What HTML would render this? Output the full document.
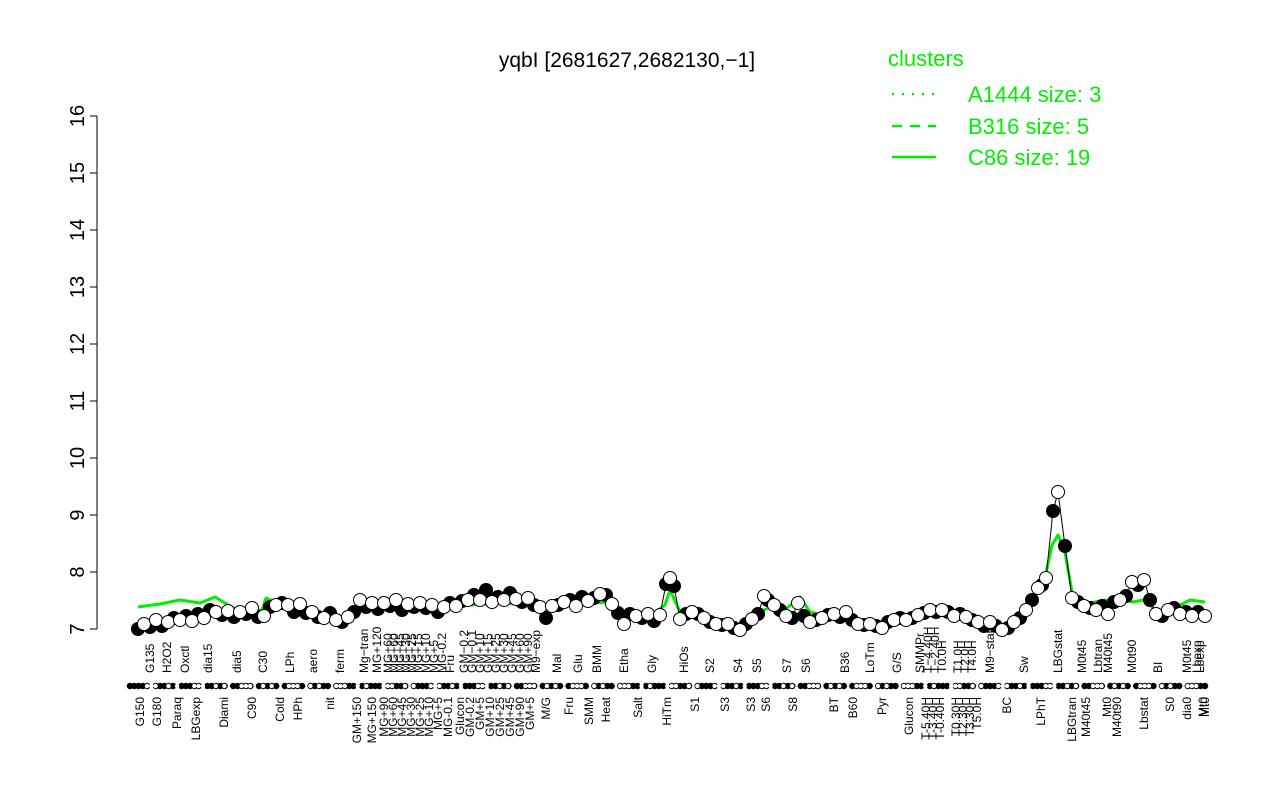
<!DOCTYPE html>
<html><head><meta charset="utf-8">
<style>
html,body{margin:0;padding:0;background:#fff;}
svg{display:block;font-family:"Liberation Sans",Arial,sans-serif;}
</style></head>
<body>
<svg width="1280" height="800" viewBox="0 0 1280 800" xmlns="http://www.w3.org/2000/svg">
<defs>
<marker id="mb" markerUnits="userSpaceOnUse" markerWidth="16" markerHeight="16" refX="8" refY="8"><circle cx="8" cy="8" r="6.5" fill="#000" stroke="#000" stroke-width="1"/></marker>
<marker id="mw" markerUnits="userSpaceOnUse" markerWidth="16" markerHeight="16" refX="8" refY="8"><circle cx="8" cy="8" r="6.5" fill="#fff" stroke="#000" stroke-width="1"/></marker>
</defs>
<rect width="1280" height="800" fill="#fff"/>
<text x="627" y="67" font-size="21" text-anchor="middle">yqbI [2681627,2682130,−1]</text>
<g fill="#00ee00" font-size="22">
<text x="888" y="66">clusters</text>
<text x="968" y="102">A1444 size: 3</text>
<text x="968" y="134">B316 size: 5</text>
<text x="968" y="165">C86 size: 19</text>
</g>
<line x1="892" y1="94" x2="936" y2="94" stroke="#00ee00" stroke-width="2.5" stroke-dasharray="2,8"/>
<line x1="892" y1="126" x2="936" y2="126" stroke="#00ee00" stroke-width="2.5" stroke-dasharray="10,8"/>
<line x1="892" y1="157" x2="936" y2="157" stroke="#00ee00" stroke-width="2.5"/>
<g stroke="#000" stroke-width="1">
<line x1="97" y1="116" x2="97" y2="629"/>
<line x1="90" y1="116" x2="97" y2="116"/><line x1="90" y1="173" x2="97" y2="173"/>
<line x1="90" y1="230" x2="97" y2="230"/><line x1="90" y1="287" x2="97" y2="287"/>
<line x1="90" y1="344" x2="97" y2="344"/><line x1="90" y1="401" x2="97" y2="401"/>
<line x1="90" y1="458" x2="97" y2="458"/><line x1="90" y1="515" x2="97" y2="515"/>
<line x1="90" y1="572" x2="97" y2="572"/><line x1="90" y1="629" x2="97" y2="629"/>
</g>
<g font-size="20" text-anchor="middle">
<text transform="translate(84,116) rotate(-90)">16</text>
<text transform="translate(84,173) rotate(-90)">15</text>
<text transform="translate(84,230) rotate(-90)">14</text>
<text transform="translate(84,287) rotate(-90)">13</text>
<text transform="translate(84,344) rotate(-90)">12</text>
<text transform="translate(84,401) rotate(-90)">11</text>
<text transform="translate(84,458) rotate(-90)">10</text>
<text transform="translate(84,515) rotate(-90)">9</text>
<text transform="translate(84,572) rotate(-90)">8</text>
<text transform="translate(84,629) rotate(-90)">7</text>
</g>
<polyline fill="none" stroke="#00ee00" stroke-width="3" stroke-linejoin="round" points="138,607 160,604 180,600 200,603 215,597 240,612 262,610 266,598 280,604 300,608 320,614 345,619 360,600 400,604 440,606 470,605 500,603 530,605 545,612 560,606 590,602 610,603 625,620 650,616 665,605 670,590 680,612 690,614 700,614 720,624 745,624 760,612 770,607 780,614 800,597 810,612 830,616 850,622 880,622 910,619 930,614 950,612 970,620 985,622 1005,626 1025,612 1037,590 1045,578 1052,545 1058,535 1065,552 1072,592 1085,604 1105,600 1115,603 1125,600 1133,602 1143,600 1150,605 1160,615 1175,608 1190,600 1205,602"/>
<polyline fill="none" stroke="#000" stroke-width="1" points="138,629 144,624 150,627 156,620 162,626 168,622 174,618 180,620 186,616 192,621 198,614 204,618 210,610 216,612 222,615 228,611 234,617 240,612 246,614 252,608 258,617 264,616 270,607 276,605 282,603 288,605 294,612 300,604 306,613 312,612 318,617 324,618 330,613 336,620 342,622 348,617 354,612 360,600 366,607 372,603 378,609 384,603 390,606 396,600 402,610 408,604 414,607 420,603 426,608 432,605 438,612 444,607 450,603 456,606 462,601 468,600 474,595 480,600 486,590 492,602 498,597 504,600 510,593 516,599 522,602 528,598 534,605 540,607 546,618 552,606 558,605 564,602 570,600 576,606 582,597 588,601 594,598 600,594 606,595 612,604 618,613 624,624 630,614 636,616 642,618 648,614 654,621 660,615 666,584 670,578 674,586 680,619 686,614 692,612 698,614 704,618 710,622 716,624 722,625 728,624 734,628 740,630 746,624 752,619 758,614 764,596 768,600 774,605 780,610 786,616 792,618 798,603 804,616 810,622 816,620 822,618 828,615 834,614 840,617 846,612 852,620 858,624 864,625 870,624 876,626 882,628 888,622 894,620 900,618 906,620 912,618 918,615 924,613 930,610 936,612 942,610 948,612 954,616 960,614 966,617 972,620 978,622 984,626 990,622 996,626 1002,630 1008,628 1014,622 1020,618 1026,610 1032,600 1038,588 1042,585 1046,578 1053,511 1058,492 1065,546 1072,598 1078,602 1084,606 1090,608 1096,610 1102,606 1108,614 1114,602 1120,600 1126,596 1132,582 1138,585 1144,580 1150,600 1156,614 1162,616 1168,610 1174,608 1180,614 1186,612 1192,616 1198,612 1205,616"/>
<polyline fill="none" stroke="none" marker-start="url(#mb)" marker-mid="url(#mb)" marker-end="url(#mb)" points="138,629 150,627 162,626 174,618 186,616 198,614 210,610 222,615 234,617 246,614 258,617 270,607 282,603 294,612 306,613 318,617 330,613 342,622 354,612 366,607 378,609 390,606 402,610 414,607 426,608 438,612 450,603 462,601 474,595 486,590 498,597 510,593 522,602 534,605 546,618 558,605 570,600 582,597 594,598 606,595 618,613 630,614 642,618 654,621 666,584 674,586 686,614 698,614 710,622 722,625 734,628 746,624 758,614 768,600 780,610 792,618 804,616 816,620 828,615 840,617 852,620 864,625 876,626 888,622 900,618 912,618 924,613 936,612 948,612 960,614 972,620 984,626 996,626 1008,628 1020,618 1032,600 1042,585 1053,511 1065,546 1078,602 1090,608 1102,606 1114,602 1126,596 1138,585 1150,600 1162,616 1174,608 1186,612 1198,612"/>
<polyline fill="none" stroke="none" marker-start="url(#mw)" marker-mid="url(#mw)" marker-end="url(#mw)" points="144,624 156,620 168,622 180,620 192,621 204,618 216,612 228,611 240,612 252,608 264,616 276,605 288,605 300,604 312,612 324,618 336,620 348,617 360,600 372,603 384,603 396,600 408,604 420,603 432,605 444,607 456,606 468,600 480,600 492,602 504,600 516,599 528,598 540,607 552,606 564,602 576,606 588,601 600,594 612,604 624,624 636,616 648,614 660,615 670,578 680,619 692,612 704,618 716,624 728,624 740,630 752,619 764,596 774,605 786,616 798,603 810,622 822,618 834,614 846,612 858,624 870,624 882,628 894,620 906,620 918,615 930,610 942,610 954,616 966,617 978,622 990,622 1002,630 1014,622 1026,610 1038,588 1046,578 1058,492 1072,598 1084,606 1096,610 1108,614 1120,600 1132,582 1144,580 1156,614 1168,610 1180,614 1192,616 1205,616"/>
<line x1="130" y1="686" x2="1208" y2="686" stroke="#000" stroke-width="6.5" stroke-linecap="round" stroke-dasharray="0 4.3 0 4.3 0 4.3 0 4.3 0 8.6"/>
<line x1="147" y1="686" x2="1208" y2="686" stroke="#fff" stroke-width="4.4" stroke-linecap="round" stroke-dasharray="0 4.3 0 4.3 0 12.9 0 8.6 0 17.2"/>
<g font-size="12" text-anchor="end">
<text transform="translate(144,697) rotate(-90)">G150</text>
<text transform="translate(161,697) rotate(-90)">G180</text>
<text transform="translate(181,697) rotate(-90)">Paraq</text>
<text transform="translate(200,697) rotate(-90)">LBGexp</text>
<text transform="translate(228,697) rotate(-90)">Diami</text>
<text transform="translate(256,697) rotate(-90)">C90</text>
<text transform="translate(284,697) rotate(-90)">Cold</text>
<text transform="translate(302,697) rotate(-90)">HPh</text>
<text transform="translate(334,697) rotate(-90)">nit</text>
<text transform="translate(361,697) rotate(-90)">GM+150</text>
<text transform="translate(376,697) rotate(-90)">MG+150</text>
<text transform="translate(388,697) rotate(-90)">MG+90</text>
<text transform="translate(397,697) rotate(-90)">MG+60</text>
<text transform="translate(406,697) rotate(-90)">MG+45</text>
<text transform="translate(415,697) rotate(-90)">MG+30</text>
<text transform="translate(424,697) rotate(-90)">MG+25</text>
<text transform="translate(433,697) rotate(-90)">MG+10</text>
<text transform="translate(442,697) rotate(-90)">MG+5</text>
<text transform="translate(452,697) rotate(-90)">MG-0.1</text>
<text transform="translate(464,697) rotate(-90)">Glucon</text>
<text transform="translate(474,697) rotate(-90)">GM-0.2</text>
<text transform="translate(484,697) rotate(-90)">GM+5</text>
<text transform="translate(494,697) rotate(-90)">GM+10</text>
<text transform="translate(504,697) rotate(-90)">GM+25</text>
<text transform="translate(514,697) rotate(-90)">GM+45</text>
<text transform="translate(524,697) rotate(-90)">GM+90</text>
<text transform="translate(534,697) rotate(-90)">GM+5</text>
<text transform="translate(550,697) rotate(-90)">M/G</text>
<text transform="translate(573,697) rotate(-90)">Fru</text>
<text transform="translate(593,697) rotate(-90)">SMM</text>
<text transform="translate(610,697) rotate(-90)">Heat</text>
<text transform="translate(642,697) rotate(-90)">Salt</text>
<text transform="translate(671,697) rotate(-90)">HiTm</text>
<text transform="translate(699,697) rotate(-90)">S1</text>
<text transform="translate(729,697) rotate(-90)">S3</text>
<text transform="translate(755,697) rotate(-90)">S3</text>
<text transform="translate(770,697) rotate(-90)">S6</text>
<text transform="translate(797,697) rotate(-90)">S8</text>
<text transform="translate(838,697) rotate(-90)">BT</text>
<text transform="translate(857,697) rotate(-90)">B60</text>
<text transform="translate(886,697) rotate(-90)">Pyr</text>
<text transform="translate(913,697) rotate(-90)">Glucon</text>
<text transform="translate(930,697) rotate(-90)">T-5.40H</text>
<text transform="translate(937,697) rotate(-90)">T-3.40H</text>
<text transform="translate(944,697) rotate(-90)">T-0.40H</text>
<text transform="translate(960,697) rotate(-90)">T0.30H</text>
<text transform="translate(967,697) rotate(-90)">T2.30H</text>
<text transform="translate(974,697) rotate(-90)">T3.30H</text>
<text transform="translate(981,697) rotate(-90)">T5.0H</text>
<text transform="translate(1011,697) rotate(-90)">BC</text>
<text transform="translate(1045,697) rotate(-90)">LPhT</text>
<text transform="translate(1076,697) rotate(-90)">LBGtran</text>
<text transform="translate(1090,697) rotate(-90)">M40t45</text>
<text transform="translate(1111,697) rotate(-90)">Mt0</text>
<text transform="translate(1121,697) rotate(-90)">M40t90</text>
<text transform="translate(1148,697) rotate(-90)">Lbstat</text>
<text transform="translate(1174,697) rotate(-90)">S0</text>
<text transform="translate(1191,697) rotate(-90)">dia0</text>
<text transform="translate(1207,697) rotate(-90)">Mt0</text>
<text transform="translate(1209,697) rotate(-90)">Mt0</text>
</g>
<g font-size="12" text-anchor="start">
<text transform="translate(154,673) rotate(-90)">G135</text>
<text transform="translate(171,673) rotate(-90)">H2O2</text>
<text transform="translate(189,673) rotate(-90)">Oxctl</text>
<text transform="translate(212,673) rotate(-90)">dia15</text>
<text transform="translate(241,673) rotate(-90)">dia5</text>
<text transform="translate(267,673) rotate(-90)">C30</text>
<text transform="translate(294,673) rotate(-90)">LPh</text>
<text transform="translate(317,673) rotate(-90)">aero</text>
<text transform="translate(344,673) rotate(-90)">ferm</text>
<text transform="translate(368,673) rotate(-90)">Mg−tran</text>
<text transform="translate(381,673) rotate(-90)">MG+120</text>
<text transform="translate(392,673) rotate(-90)">MG+60</text>
<text transform="translate(398,673) rotate(-90)">MG+60</text>
<text transform="translate(404,673) rotate(-90)">MG+45</text>
<text transform="translate(410,673) rotate(-90)">MG+30</text>
<text transform="translate(416,673) rotate(-90)">MG+25</text>
<text transform="translate(422,673) rotate(-90)">MG+15</text>
<text transform="translate(430,673) rotate(-90)">MG+10</text>
<text transform="translate(438,673) rotate(-90)">MG+5</text>
<text transform="translate(446,673) rotate(-90)">MG-0.2</text>
<text transform="translate(454,673) rotate(-90)">Fru</text>
<text transform="translate(468,673) rotate(-90)">GM−0.2</text>
<text transform="translate(476,673) rotate(-90)">GM−0.1</text>
<text transform="translate(484,673) rotate(-90)">GM+10</text>
<text transform="translate(492,673) rotate(-90)">GM+15</text>
<text transform="translate(500,673) rotate(-90)">GM+25</text>
<text transform="translate(508,673) rotate(-90)">GM+30</text>
<text transform="translate(516,673) rotate(-90)">GM+45</text>
<text transform="translate(524,673) rotate(-90)">GM+60</text>
<text transform="translate(532,673) rotate(-90)">GM+90</text>
<text transform="translate(540,673) rotate(-90)">M9−exp</text>
<text transform="translate(561,673) rotate(-90)">Mal</text>
<text transform="translate(582,673) rotate(-90)">Glu</text>
<text transform="translate(601,673) rotate(-90)">BMM</text>
<text transform="translate(628,673) rotate(-90)">Etha</text>
<text transform="translate(656,673) rotate(-90)">Gly</text>
<text transform="translate(688,673) rotate(-90)">HiOs</text>
<text transform="translate(714,673) rotate(-90)">S2</text>
<text transform="translate(742,673) rotate(-90)">S4</text>
<text transform="translate(761,673) rotate(-90)">S5</text>
<text transform="translate(791,673) rotate(-90)">S7</text>
<text transform="translate(810,673) rotate(-90)">S6</text>
<text transform="translate(849,673) rotate(-90)">B36</text>
<text transform="translate(874,673) rotate(-90)">LoTm</text>
<text transform="translate(901,673) rotate(-90)">G/S</text>
<text transform="translate(924,673) rotate(-90)">SMMPr</text>
<text transform="translate(932,673) rotate(-90)">T−4.40H</text>
<text transform="translate(939,673) rotate(-90)">T−2.40H</text>
<text transform="translate(946,673) rotate(-90)">T0.0H</text>
<text transform="translate(962,673) rotate(-90)">T1.0H</text>
<text transform="translate(969,673) rotate(-90)">T2.0H</text>
<text transform="translate(976,673) rotate(-90)">T4.0H</text>
<text transform="translate(994,673) rotate(-90)">M9−stat</text>
<text transform="translate(1028,673) rotate(-90)">Sw</text>
<text transform="translate(1062,673) rotate(-90)">LBGstat</text>
<text transform="translate(1086,673) rotate(-90)">M0t45</text>
<text transform="translate(1102,673) rotate(-90)">Lbtran</text>
<text transform="translate(1112,673) rotate(-90)">M40t45</text>
<text transform="translate(1136,673) rotate(-90)">M0t90</text>
<text transform="translate(1162,673) rotate(-90)">BI</text>
<text transform="translate(1191,673) rotate(-90)">M0t45</text>
<text transform="translate(1201,673) rotate(-90)">Lbexp</text>
<text transform="translate(1204,673) rotate(-90)">Lbexp</text>
</g>
</svg>
</body></html>
